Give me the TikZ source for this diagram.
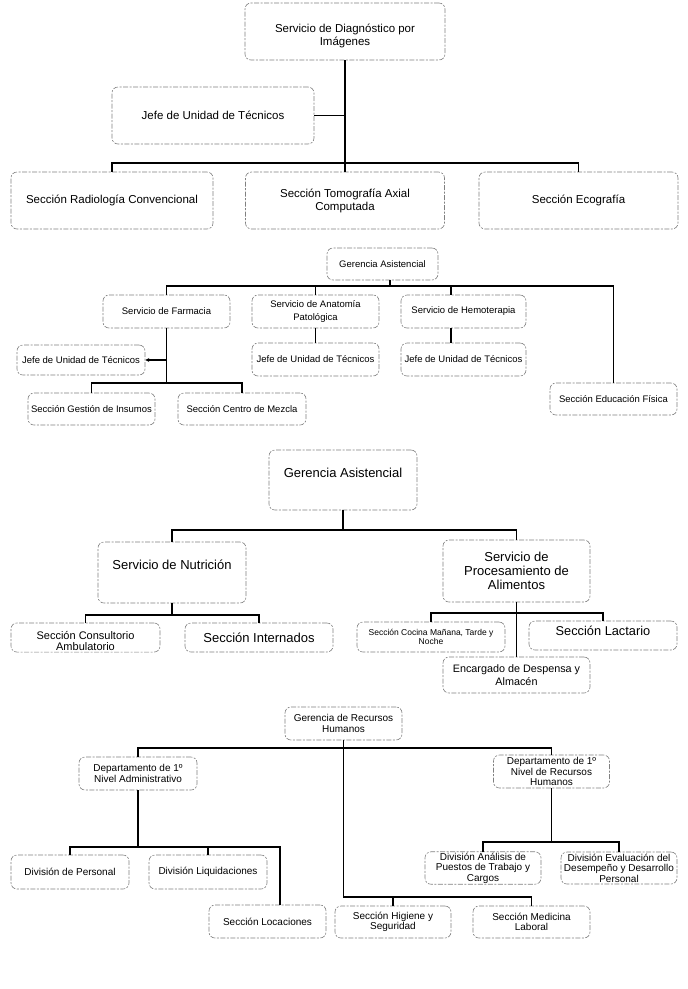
\documentclass[tikz,border=0pt]{standalone}
\usepackage{fontspec}
\setmainfont{Liberation Sans}
\usetikzlibrary{calc,arrows.meta}
\tikzset{
  box/.style={draw=black!50, line width=0.6pt, dash pattern=on 5pt off 1.5pt on 2pt off 1.5pt,
    rounded corners=6pt, align=center, inner sep=1pt, text=black},
  conn/.style={line width=1.5pt, black, line cap=rect},
  fA/.style={font=\fontsize{11.5}{13}\selectfont},
  fB/.style={font=\fontsize{9.5}{12.5}\selectfont},
  fC/.style={font=\fontsize{13}{14}\selectfont},
  fD/.style={font=\fontsize{10}{10.5}\selectfont},
}
\begin{document}
\begin{tikzpicture}[x=1pt,y=-1pt]
\useasboundingbox (0,0) rectangle (688,989);

% ---------- Section 1 ----------
\node[box,fA,minimum width=200pt,minimum height=57pt] (a1) at (345,31.5) {\rule{0pt}{18pt}Servicio de Diagnóstico por\\Imágenes};
\node[box,fA,minimum width=202pt,minimum height=57pt] (j1) at (213,115.5) {Jefe de Unidad de Técnicos};
\node[box,fA,minimum width=202pt,minimum height=57pt] (b1) at (112,200.5) {Sección Radiología Convencional};
\node[box,fA,minimum width=199pt,minimum height=57pt] (b2) at (345,200.5) {Sección Tomografía Axial\\Computada};
\node[box,fA,minimum width=199pt,minimum height=57pt] (b3) at (578.5,200.5) {Sección Ecografía};
\coordinate (bus1) at (0,163);
\draw[conn] (a1.south) -- (b2.north);
\draw[conn] (j1.east) -- (j1.east -| a1.south);
\draw[conn] (b1.north) -- (b1.north |- bus1) -- (b3.north |- bus1) -- (b3.north);

% ---------- Section 2 ----------
\node[box,fB,minimum width=111pt,minimum height=32pt] (g2) at (382.5,264) {Gerencia Asistencial};
\node[box,fB,minimum width=127pt,minimum height=33pt] (farm) at (166.5,311.5) {Servicio de Farmacia};
\node[box,fB,minimum width=127pt,minimum height=33pt] (anat) at (315.5,311.5) {Servicio de Anatomía\\Patológica};
\node[box,fB,minimum width=125pt,minimum height=33pt] (hemo) at (463.5,311.5) {Servicio de Hemoterapia};
\node[box,fB,minimum width=128pt,minimum height=30pt] (jfarm) at (81,360) {Jefe de Unidad de Técnicos};
\node[box,fB,minimum width=127pt,minimum height=33pt] (janat) at (315.5,359.5) {Jefe de Unidad de Técnicos};
\node[box,fB,minimum width=125pt,minimum height=33pt] (jhemo) at (463.5,359.5) {Jefe de Unidad de Técnicos};
\node[box,fB,minimum width=127pt,minimum height=32pt] (edu) at (613.5,399) {Sección Educación Física};
\node[box,fB,minimum width=127pt,minimum height=32pt] (gest) at (91.5,409) {Sección Gestión de Insumos};
\node[box,fB,minimum width=128pt,minimum height=32pt] (mezc) at (242,409) {Sección Centro de Mezcla};
\coordinate (bus2) at (0,286);
\coordinate (sub2) at (0,383);
\coordinate (g2out) at ([xshift=7.5pt]g2.south);
\coordinate (hemoin) at ([xshift=-12.5pt]hemo.north);
\coordinate (hemoout) at ([xshift=-12.5pt]hemo.south);
\coordinate (jhemoin) at ([xshift=-12.5pt]jhemo.north);
\draw[conn] (g2out) -- (g2out |- bus2);
\draw[conn] (farm.north) -- (farm.north |- bus2) -- (edu.north |- bus2) -- (edu.north);
\draw[conn] (anat.north) -- (anat.north |- bus2);
\draw[conn] (hemoin) -- (hemoin |- bus2);
\draw[conn] (anat.south) -- (janat.north);
\draw[conn] (hemoout) -- (jhemoin);
\draw[conn] (farm.south) -- (farm.south |- sub2);
\draw[conn,line cap=butt,-{Stealth[length=4pt,width=4pt]}] (jfarm.east -| farm.south) -- (jfarm.east);
\draw[conn] (gest.north) -- (gest.north |- sub2) -- (mezc.north |- sub2) -- (mezc.north);

% ---------- Section 3 ----------
\node[box,fC,minimum width=148pt,minimum height=60pt,text height=10pt,text depth=15pt] (g3) at (343,480) {Gerencia Asistencial};
\node[box,fC,minimum width=148pt,minimum height=61pt,text height=10pt,text depth=17pt] (nutr) at (172,572.5) {Servicio de Nutrición};
\node[box,fC,minimum width=147pt,minimum height=62pt] (proc) at (516.5,571) {Servicio de\\Procesamiento de\\Alimentos};
\node[box,font=\fontsize{11}{11}\selectfont,minimum width=149pt,minimum height=29pt] (cons) at (85.5,637.5) {\rule{0pt}{16pt}Sección Consultorio\\Ambulatorio};
\node[box,fC,minimum width=148pt,minimum height=29pt] (inte) at (259,637.5) {Sección Internados};
\node[box,font=\fontsize{8.5}{9.5}\selectfont,minimum width=148pt,minimum height=30pt] (coci) at (431,637) {Sección Cocina Mañana, Tarde y\\Noche};
\node[box,font=\fontsize{12.8}{14}\selectfont,minimum width=148pt,minimum height=29pt,text height=10pt,text depth=11pt] (lact) at (603,635.5) {Sección Lactario};
\node[box,font=\fontsize{10.8}{12.5}\selectfont,minimum width=147pt,minimum height=36pt] (enca) at (516.5,675) {Encargado de Despensa y\\Almacén};
\coordinate (bus3) at (0,530);
\coordinate (sub3a) at (0,615);
\coordinate (sub3b) at (0,613);
\draw[conn] (g3.south) -- (g3.south |- bus3);
\draw[conn] (nutr.north) -- (nutr.north |- bus3) -- (proc.north |- bus3) -- (proc.north);
\draw[conn] (nutr.south) -- (nutr.south |- sub3a);
\draw[conn] (cons.north) -- (cons.north |- sub3a) -- (inte.north |- sub3a) -- (inte.north);
\draw[conn] (proc.south) -- (enca.north);
\draw[conn] (coci.north) -- (coci.north |- sub3b) -- (lact.north |- sub3b) -- (lact.north);

% ---------- Section 4 ----------
\node[box,fD,minimum width=117pt,minimum height=33pt] (grh) at (343.5,723.5) {Gerencia de Recursos\\Humanos};
\node[box,fD,minimum width=118pt,minimum height=33pt] (dadm) at (138,773.5) {Departamento de 1º\\Nivel Administrativo};
\node[box,fD,minimum width=116pt,minimum height=33pt] (drh) at (551.5,771.5) {Departamento de 1º\\Nivel de Recursos\\Humanos};
\node[box,fD,minimum width=118pt,minimum height=34pt] (per) at (70,872) {División de Personal};
\node[box,fD,minimum width=118pt,minimum height=34pt] (liq) at (208,872) {División Liquidaciones};
\node[box,fD,minimum width=117pt,minimum height=33pt] (loc) at (267.5,921.5) {Sección Locaciones};
\node[box,fD,minimum width=116pt,minimum height=32pt] (ana) at (483,868) {División Análisis de\\Puestos de Trabajo y\\Cargos};
\node[box,fD,minimum width=116pt,minimum height=32pt] (eva) at (619,868) {División Evaluación del\\Desempeño y Desarrollo\\Personal};
\node[box,fD,minimum width=116pt,minimum height=32pt] (hig) at (393,922) {Sección Higiene y\\Seguridad};
\node[box,fD,minimum width=117pt,minimum height=32pt] (med) at (531.5,922) {Sección Medicina\\Laboral};
\coordinate (bus4) at (0,748);
\coordinate (bot4) at (0,897);
\coordinate (sub4a) at (0,847);
\coordinate (sub4b) at (0,842);
\coordinate (locin) at ([xshift=12.5pt]loc.north);
\draw[conn] (grh.south) -- (grh.south |- bot4) -- (med.north |- bot4) -- (med.north);
\draw[conn] (hig.north) -- (hig.north |- bot4);
\draw[conn] (dadm.north) -- (dadm.north |- bus4) -- (drh.north |- bus4) -- (drh.north);
\draw[conn] (dadm.south) -- (dadm.south |- sub4a);
\draw[conn] (per.north) -- (per.north |- sub4a) -- (locin |- sub4a) -- (locin);
\draw[conn] (liq.north) -- (liq.north |- sub4a);
\draw[conn] (drh.south) -- (drh.south |- sub4b);
\draw[conn] (ana.north) -- (ana.north |- sub4b) -- (eva.north |- sub4b) -- (eva.north);
\end{tikzpicture}
\end{document}
